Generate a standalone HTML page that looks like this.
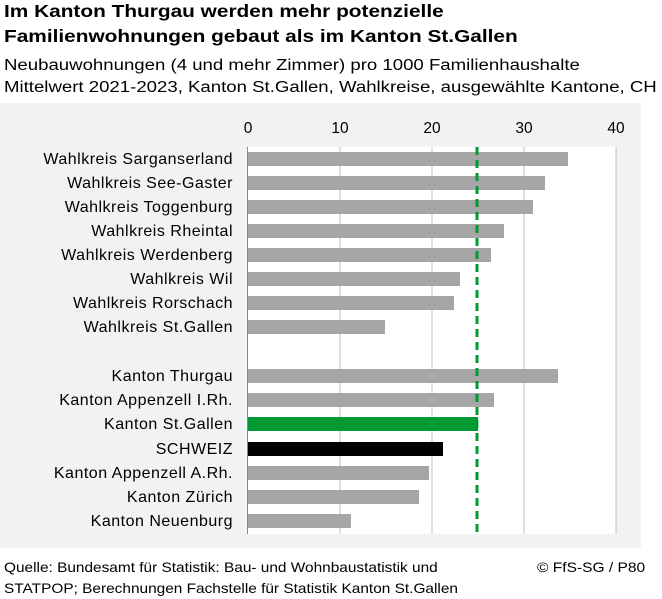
<!DOCTYPE html>
<html><head><meta charset="utf-8"><style>
body{margin:0;width:662px;height:597px;background:#fff;font-family:"Liberation Sans",Arial,sans-serif;overflow:hidden;position:relative}
.t{position:absolute;white-space:nowrap;color:#000;transform-origin:0 0}
</style></head><body>
<div class="t" style="left:4px;top:-1px;font-size:17.5px;font-weight:bold;line-height:25px;transform:scaleX(1.19)">Im Kanton Thurgau werden mehr potenzielle<br>Familienwohnungen gebaut als im Kanton St.Gallen</div>
<div class="t" style="left:4px;top:55px;font-size:15.5px;line-height:22px;transform:scaleX(1.2)">Neubauwohnungen (4 und mehr Zimmer) pro 1000 Familienhaushalte<br>Mittelwert 2021-2023, Kanton St.Gallen, Wahlkreise, ausgewählte Kantone, CH</div>
<svg style="position:absolute;left:0;top:0" width="662" height="597">
<rect x="0" y="103" width="641" height="445" fill="#f2f2f2"/>
<rect x="248" y="147" width="368" height="387" fill="#fff"/>
<g stroke="#c0c0c0" stroke-width="1">
<line x1="340" y1="147" x2="340" y2="534"/><line x1="432" y1="147" x2="432" y2="534"/><line x1="524" y1="147" x2="524" y2="534"/><line x1="616" y1="147" x2="616" y2="534"/>
<line x1="247.5" y1="147" x2="247.5" y2="534" stroke="#888"/>
</g>
<g font-size="15.5" text-anchor="middle" fill="#000">
<text x="248" y="133">0</text><text x="340" y="133">10</text><text x="432" y="133">20</text><text x="524" y="133">30</text><text x="616" y="133">40</text>
</g>
<g fill="#a6a6a6">
<rect x="248" y="152" width="320" height="14"/>
<rect x="248" y="176" width="297" height="14"/>
<rect x="248" y="200" width="285" height="14"/>
<rect x="248" y="224" width="256" height="14"/>
<rect x="248" y="248" width="243" height="14"/>
<rect x="248" y="272" width="212" height="14"/>
<rect x="248" y="296" width="206" height="14"/>
<rect x="248" y="320" width="137" height="14"/>
<rect x="248" y="369" width="310" height="14"/>
<rect x="248" y="393" width="246" height="14"/>
<rect x="248" y="466" width="181" height="14"/>
<rect x="248" y="490" width="171" height="14"/>
<rect x="248" y="514" width="103" height="14"/>
</g>
<rect x="248" y="417" width="230" height="14" fill="#009933"/>
<rect x="248" y="442" width="195" height="14" fill="#000"/>
<line x1="477" y1="147" x2="477" y2="534" stroke="#009933" stroke-width="3" stroke-dasharray="8,5"/>
<g font-size="16" letter-spacing="0.5" text-anchor="end" fill="#000">
<text x="233" y="164">Wahlkreis Sarganserland</text>
<text x="233" y="188">Wahlkreis See-Gaster</text>
<text x="233" y="212">Wahlkreis Toggenburg</text>
<text x="233" y="236">Wahlkreis Rheintal</text>
<text x="233" y="260">Wahlkreis Werdenberg</text>
<text x="233" y="284">Wahlkreis Wil</text>
<text x="233" y="308">Wahlkreis Rorschach</text>
<text x="233" y="332">Wahlkreis St.Gallen</text>
<text x="233" y="381">Kanton Thurgau</text>
<text x="233" y="405">Kanton Appenzell I.Rh.</text>
<text x="233" y="429">Kanton St.Gallen</text>
<text x="233" y="454">SCHWEIZ</text>
<text x="233" y="478">Kanton Appenzell A.Rh.</text>
<text x="233" y="502">Kanton Zürich</text>
<text x="233" y="526">Kanton Neuenburg</text>
</g>
</svg>
<div class="t" style="left:4px;top:557px;font-size:14px;line-height:21px;transform:scaleX(1.1)">Quelle: Bundesamt für Statistik: Bau- und Wohnbaustatistik und<br>STATPOP; Berechnungen Fachstelle für Statistik Kanton St.Gallen</div>
<div class="t" style="left:537px;top:557px;font-size:14px;line-height:21px;transform:scaleX(1.11)">© FfS-SG / P80</div>
</body></html>
